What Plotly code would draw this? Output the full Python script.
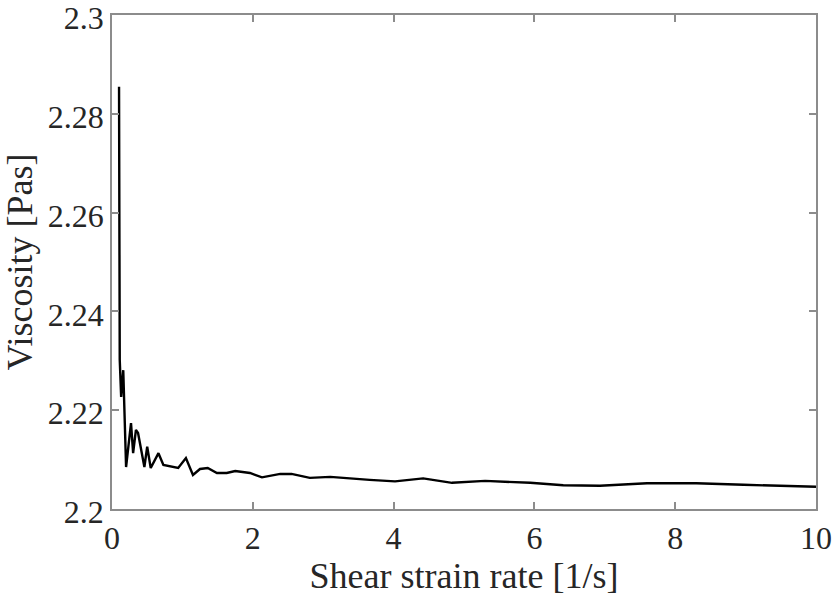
import plotly.graph_objects as go

shear_rate = [0.10, 0.10, 0.11, 0.13, 0.16, 0.20, 0.23, 0.27, 0.30, 0.34, 0.37, 0.46, 0.50,
              0.55, 0.66, 0.73, 0.94, 1.05, 1.15, 1.25, 1.36, 1.49, 1.63, 1.75, 1.96, 2.13,
              2.39, 2.55, 2.81, 3.10, 3.66, 4.02, 4.42, 4.83, 5.30, 5.94, 6.41, 6.93, 7.60,
              8.30, 8.97, 10.0]
viscosity = [2.2855, 2.2336, 2.2302, 2.2227, 2.2281, 2.2085, 2.2120, 2.2174, 2.2113, 2.2160,
             2.2154, 2.2085, 2.2126, 2.2083, 2.2113, 2.2089, 2.2083, 2.2103, 2.2069, 2.2081,
             2.2083, 2.2073, 2.2073, 2.2077, 2.2073, 2.2064, 2.2071, 2.2071, 2.2063, 2.2065,
             2.2059, 2.2056, 2.2062, 2.2053, 2.2057, 2.2053, 2.2048, 2.2047, 2.2052, 2.2052,
             2.2049, 2.2045]

x_ticks = [0, 2, 4, 6, 8, 10]
y_ticks = [2.2, 2.22, 2.24, 2.26, 2.28, 2.3]
y_tick_labels = ["2.2", "2.22", "2.24", "2.26", "2.28", "2.3"]

fig = go.Figure()
fig.add_trace(go.Scatter(x=shear_rate, y=viscosity, mode="lines",
                         line=dict(color="black", width=2.4), showlegend=False))

axis_common = dict(showline=True, linecolor="#8c8c8c", linewidth=1.5, mirror="allticks",
                   ticks="inside", ticklen=7, tickwidth=1.5, tickcolor="#8c8c8c",
                   showgrid=False, zeroline=False, automargin=False,
                   ticklabeloverflow="allow",
                   tickfont=dict(family="Liberation Serif", size=32, color="#262626"))

fig.update_xaxes(range=[0, 10.00001], tickvals=x_ticks, ticktext=[str(v) for v in x_ticks],
                 title=dict(text="Shear strain rate [1/s]", standoff=8,
                            font=dict(family="Liberation Serif", size=36, color="#262626")),
                 **axis_common)
fig.update_yaxes(range=[2.2, 2.300001], tickvals=y_ticks, ticktext=y_tick_labels,
                 ticklabelshift=3,
                 title=dict(text="Viscosity [Pas]", standoff=6,
                            font=dict(family="Liberation Serif", size=36, color="#262626")),
                 **axis_common)

fig.update_layout(width=835, height=602,
                  margin=dict(l=112, r=19, t=15, b=93),
                  paper_bgcolor="white", plot_bgcolor="white")

fig.write_html("out.html", config={"displayModeBar": False},
               post_script="document.body.style.margin='0';document.body.style.overflow='hidden';")
